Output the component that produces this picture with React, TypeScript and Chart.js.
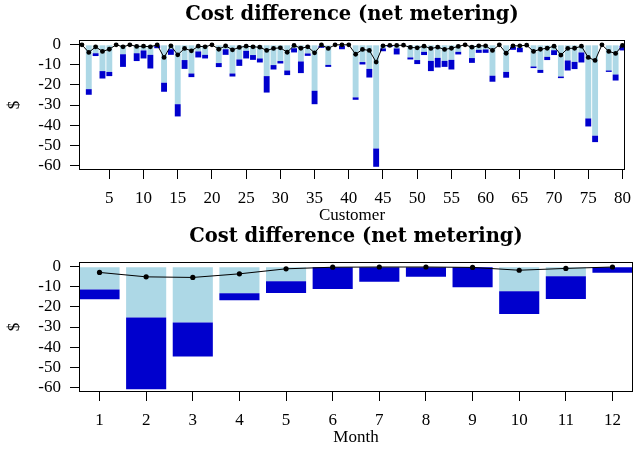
import React, { useEffect, useRef } from "react";
import { Chart, registerables } from "chart.js";

Chart.register(...registerables);

// ---------- Data: per customer ----------
const customerIds: number[] = [
  1, 2, 3, 4, 5, 6, 7, 8, 9, 10, 11, 12, 13, 14, 15, 16, 17, 18, 19, 20,
  21, 22, 23, 24, 25, 26, 27, 28, 29, 30, 31, 32, 33, 34, 35, 36, 37, 38, 39, 40,
  41, 42, 43, 44, 45, 46, 47, 48, 49, 50, 51, 52, 53, 54, 55, 56, 57, 58, 59, 60,
  61, 62, 63, 64, 65, 66, 67, 68, 69, 70, 71, 72, 73, 74, 75, 76, 77, 78, 79, 80,
];
// end of the light-blue bar (from 0)
const customerLight: number[] = [
  0, -22.1, -4.2, -13.1, -13.5, 0, -4.7, 0, -4.2, -2.8,
  -5.0, 0, -18.9, -2.2, -29.6, -7.6, -14.3, -3.3, -5.0, 0,
  -9.1, -2.2, -14.3, -7.3, -3.0, -5.1, -6.8, -15.6, -10.1, -8.1,
  -12.8, -1.7, -8.3, -4.3, -22.9, -0.5, -10.0, 0, -0.5, 0,
  -26.2, -8.6, -12.0, -51.7, -1.8, -0.3, -1.8, 0, -6.3, -7.6,
  -3.5, -8.0, -6.5, -8.0, -7.5, -3.5, 0, -6.6, -2.5, -2.3,
  -15.4, 0, -13.5, -1.0, -1.5, 0, -10.8, -12.5, -6.0, -2.7,
  -15.8, -7.8, -8.5, -3.8, -36.7, -45.3, 0, -12.8, -14.8, -0.5,
];
// end of the dark-blue bar (from the light end)
const customerDark: number[] = [
  0, -24.9, -5.6, -16.8, -15.6, 0, -11.0, 0, -8.1, -6.8,
  -11.8, -1.7, -23.4, -5.0, -35.7, -12.0, -16.1, -6.3, -6.8, 0,
  -11.1, -5.0, -15.8, -10.5, -6.8, -7.5, -8.8, -23.8, -12.3, -9.3,
  -15.1, -3.8, -14.1, -5.5, -29.6, -1.5, -11.0, 0, -2.2, 0,
  -27.4, -9.8, -16.3, -60.8, -3.2, -1.0, -4.8, 0, -7.3, -9.6,
  -5.1, -13.1, -11.3, -11.0, -12.3, -4.8, 0, -9.0, -4.0, -4.0,
  -18.4, 0, -16.4, -2.5, -3.7, 0, -11.6, -14.0, -7.6, -5.1,
  -16.6, -12.8, -12.1, -8.8, -40.7, -48.5, 0, -13.5, -17.8, -2.8,
];
const customerMean: number[] = [
  0, -3.8, -1.0, -3.3, -2.2, 0, -1.0, 0, -0.8, -0.7,
  -1.0, 0, -6.3, -0.5, -5.0, -1.8, -3.0, -0.7, -1.0, 0,
  -2.2, -0.5, -2.5, -1.3, -0.7, -1.0, -1.2, -2.8, -1.8, -1.5,
  -3.7, -0.3, -1.7, -1.0, -4.0, 0, -1.8, 0, 0, 0,
  -4.7, -2.3, -2.8, -8.6, -0.5, -0.3, -0.3, -0.2, -1.3, -1.5,
  -0.7, -1.8, -1.2, -2.3, -1.7, -0.8, 0, -1.2, -0.5, -0.5,
  -2.8, 0, -4.2, -0.5, -0.5, -0.2, -3.3, -2.2, -1.7, -0.7,
  -5.1, -1.8, -1.7, -0.7, -6.3, -7.8, 0, -3.3, -4.3, -0.3,
];
const customerTicks: number[] = [5, 10, 15, 20, 25, 30, 35, 40, 45, 50, 55, 60, 65, 70, 75, 80];

// ---------- Data: per month ----------
const months: number[] = [1, 2, 3, 4, 5, 6, 7, 8, 9, 10, 11, 12];
const monthLight: number[] = [-11.3, -25.3, -27.7, -13.2, -7.2, 0, 0, 0, 0, -12.2, -4.7, 0];
const monthDark: number[] = [-16.2, -61.0, -44.7, -16.7, -13.0, -11.0, -7.5, -5.0, -10.2, -23.5, -16.0, -3.0];
const monthMean: number[] = [-2.8, -5.0, -5.3, -3.5, -1.0, -0.2, -0.1, -0.1, -0.3, -1.7, -0.8, -0.1];

const yTicks: number[] = [0, -10, -20, -30, -40, -50, -60];
const chartTitle = "Cost difference (net metering)";

const LIGHT = "#ADD8E6";
const DARK = "#0000CD";
const SERIF = "'Liberation Serif', serif";

const framePlugin = {
  id: "frameTitle",
  afterDraw(chart: any, _args: any, opts: any) {
    const { ctx, chartArea: a } = chart;
    ctx.save();
    ctx.strokeStyle = "#000";
    ctx.lineWidth = 1;
    const l = Math.round(a.left) + 0.5;
    const t = Math.round(a.top) + 0.5;
    const r = Math.round(a.right) - 0.5;
    const b = Math.round(a.bottom) - 0.5;
    ctx.strokeRect(l, t, r - l, b - t);
    ctx.font = "bold 19.5px 'DejaVu Serif', serif";
    ctx.textAlign = "center";
    ctx.textBaseline = "middle";
    ctx.fillStyle = "#000";
    ctx.fillText(opts.text, (a.left + a.right) / 2, opts.y);
    ctx.restore();
  },
};

interface PanelSpec {
  ids: number[];
  light: number[];
  dark: number[];
  mean: number[];
  xMin: number;
  xMax: number;
  xTicks: number[];
  xTitle: string;
  titleY: number;
  padTop: number;
  xScaleHeight: number;
  xTitlePadBottom: number;
  pointRadius: number;
}

function buildConfig(p: PanelSpec): any {
  return {
    type: "bar",
    data: {
      datasets: [
        {
          type: "line",
          data: p.ids.map((x, i) => ({ x, y: p.mean[i] })),
          borderColor: "#000",
          borderWidth: 1,
          pointRadius: p.pointRadius,
          pointBackgroundColor: "#000",
          pointBorderWidth: 0,
          tension: 0,
          order: 0,
          clip: false,
        },
        {
          type: "bar",
          data: p.ids.map((x, i) => ({ x, y: [p.light[i], p.dark[i]] })),
          backgroundColor: DARK,
          borderWidth: 0,
          grouped: false,
          barPercentage: 0.86,
          categoryPercentage: 1,
          order: 1,
        },
        {
          type: "bar",
          data: p.ids.map((x, i) => ({ x, y: [0, p.light[i]] })),
          backgroundColor: LIGHT,
          borderWidth: 0,
          grouped: false,
          barPercentage: 0.86,
          categoryPercentage: 1,
          order: 2,
        },
      ],
    },
    options: {
      responsive: false,
      animation: false,
      devicePixelRatio: 1,
      events: [],
      layout: { padding: { top: p.padTop, right: 7, left: 0, bottom: 0 } },
      plugins: {
        legend: { display: false },
        tooltip: { enabled: false },
        title: { display: false },
        frameTitle: { text: chartTitle, y: p.titleY },
      },
      scales: {
        x: {
          type: "linear",
          min: p.xMin,
          max: p.xMax,
          offset: false,
          grid: {
            offset: false,
            drawOnChartArea: false,
            drawTicks: true,
            tickLength: 9,
            color: "#000",
            lineWidth: 1,
          },
          border: { display: false },
          afterBuildTicks: (s: any) => {
            s.ticks = p.xTicks.map((v) => ({ value: v }));
          },
          afterFit: (s: any) => {
            s.height = p.xScaleHeight;
          },
          ticks: {
            autoSkip: false,
            maxRotation: 0,
            padding: 9,
            color: "#000",
            font: { family: SERIF, size: 17 },
            callback: (v: any) => String(v),
          },
          title: {
            display: true,
            text: p.xTitle,
            color: "#000",
            font: { family: SERIF, size: 17, lineHeight: 1 },
            padding: { top: 0, bottom: p.xTitlePadBottom },
          },
        },
        y: {
          type: "linear",
          min: -62.4,
          max: 2.4,
          grid: {
            drawOnChartArea: false,
            drawTicks: true,
            tickLength: 9,
            color: "#000",
            lineWidth: 1,
          },
          border: { display: false },
          afterBuildTicks: (s: any) => {
            s.ticks = yTicks.map((v) => ({ value: v }));
          },
          afterFit: (s: any) => {
            s.width = 79;
          },
          ticks: {
            autoSkip: false,
            padding: 9,
            color: "#000",
            font: { family: SERIF, size: 17, lineHeight: 0.9 },
            callback: (v: any) => String(v),
          },
          title: {
            display: true,
            text: "$",
            color: "#000",
            font: { family: SERIF, size: 17, lineHeight: 1 },
            padding: { top: 6, bottom: 0 },
          },
        },
      },
    },
    plugins: [framePlugin],
  };
}

function Panel({ spec, top, height }: { spec: PanelSpec; top: number; height: number }) {
  const ref = useRef<HTMLCanvasElement>(null);
  useEffect(() => {
    if (!ref.current) return;
    const chart = new Chart(ref.current, buildConfig(spec));
    return () => chart.destroy();
  }, []);
  return (
    <canvas
      ref={ref}
      width={640}
      height={height}
      style={{ position: "absolute", left: 0, top, width: 640, height }}
    />
  );
}

const customerSpec: PanelSpec = {
  ids: customerIds,
  light: customerLight,
  dark: customerDark,
  mean: customerMean,
  xMin: 0.57,
  xMax: 80.37,
  xTicks: customerTicks,
  xTitle: "Customer",
  titleY: 15,
  padTop: 40,
  xScaleHeight: 54,
  xTitlePadBottom: 0,
  pointRadius: 2.4,
};

const monthSpec: PanelSpec = {
  ids: months,
  light: monthLight,
  dark: monthDark,
  mean: monthMean,
  xMin: 0.56,
  xMax: 12.44,
  xTicks: months,
  xTitle: "Month",
  titleY: 13,
  padTop: 38,
  xScaleHeight: 57,
  xTitlePadBottom: 3,
  pointRadius: 2.6,
};

export default function App() {
  return (
    <div
      style={{
        position: "fixed",
        left: 0,
        top: 0,
        width: 640,
        height: 449,
        background: "#fff",
        overflow: "hidden",
      }}
    >
      <Panel spec={customerSpec} top={0} height={224} />
      <Panel spec={monthSpec} top={224} height={225} />
    </div>
  );
}
